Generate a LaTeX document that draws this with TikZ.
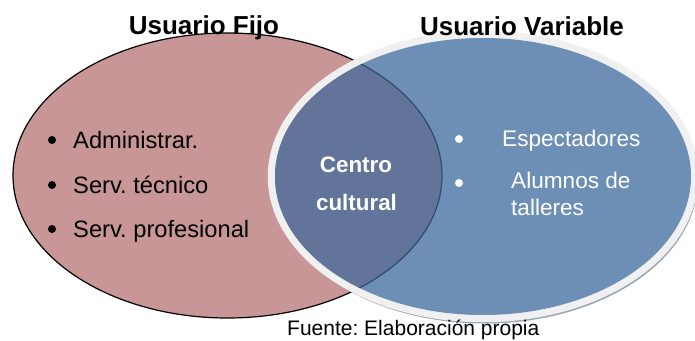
\documentclass[tikz,border=0pt]{standalone}
\usepackage{fontspec}
\setmainfont{Liberation Sans}
\usetikzlibrary{calc}
\frenchspacing
\definecolor{pinkfill}{HTML}{C89696}
\definecolor{bluefill}{HTML}{6E8FB5}
\definecolor{lensfill}{HTML}{627499}
\definecolor{lensline}{HTML}{2F4A6E}
\definecolor{ringcol}{HTML}{F0F0F0}
\definecolor{shadowcol}{HTML}{98A3B3}
\tikzset{
  head/.style={font=\fontsize{26}{30}\selectfont\bfseries, anchor=base, inner sep=0pt},
  lefttxt/.style={font=\fontsize{23.7}{28}\selectfont, anchor=base west, inner sep=0pt},
  righttxt/.style={font=\fontsize{22.6}{27}\selectfont, text=white, anchor=base west, inner sep=0pt},
  centertxt/.style={font=\fontsize{22.4}{27}\selectfont\bfseries, text=white, anchor=base, inner sep=0pt},
  bul/.style={circle, fill=#1, inner sep=0pt, minimum size=8pt},
  srctxt/.style={font=\fontsize{21}{25}\selectfont, anchor=base west, inner sep=0pt}
}
\begin{document}
\begin{tikzpicture}[x=1pt,y=-1pt]
\useasboundingbox (0,0) rectangle (695,340);
% left ellipse
\coordinate (lc) at (227.5,175.5);
\coordinate (rc) at (483,176.5);
\fill[pinkfill] (lc) ellipse [x radius=214.5, y radius=142.5];
\draw[black, line width=1.2pt] (lc) ellipse [x radius=214.5, y radius=142.5];
% right ellipse with shadow and ring
\fill[shadowcol] ($(rc)+(1.5,3.5)$) ellipse [x radius=213.5, y radius=143.5];
\draw[ringcol, line width=7.5pt] (rc) ellipse [x radius=211.5, y radius=142];
\fill[bluefill] (rc) ellipse [x radius=208, y radius=138.5];
% lens
\begin{scope}
  \clip (rc) ellipse [x radius=208, y radius=138.5];
  \fill[lensfill] (lc) ellipse [x radius=214.5, y radius=142.5];
  \draw[lensline, line width=1.2pt] (lc) ellipse [x radius=214.5, y radius=142.5];
\end{scope}
% headings
\node[head] (h1) at (204,34) {Usuario Fijo};
\node[head] (h2) at (522,35) {Usuario Variable};
% left list
\node[bul=black] (b1) at (52,140) {};
\node[lefttxt] (t1) at (73,148) {Administrar.};
\node[bul=black] (b2) at (52,185) {};
\node[lefttxt] (t2) at (73,193) {Serv. técnico};
\node[bul=black] (b3) at (52,229) {};
\node[lefttxt] (t3) at (73,237) {Serv. profesional};
% center
\node[centertxt] (c1) at (356,172) {Centro};
\node[centertxt] (c2) at (356.5,210) {cultural};
% right list
\node[bul=white] (r1) at (459,139) {};
\node[righttxt] (rt1) at (502,146) {Espectadores};
\node[bul=white] (r2) at (459,183) {};
\node[righttxt] (rt2) at (511,188) {Alumnos de};
\node[righttxt] (rt3) at (511,215) {talleres};
% source
\node[srctxt] (src) at (287,335) {Fuente: Elaboración propia};
\end{tikzpicture}
\end{document}
